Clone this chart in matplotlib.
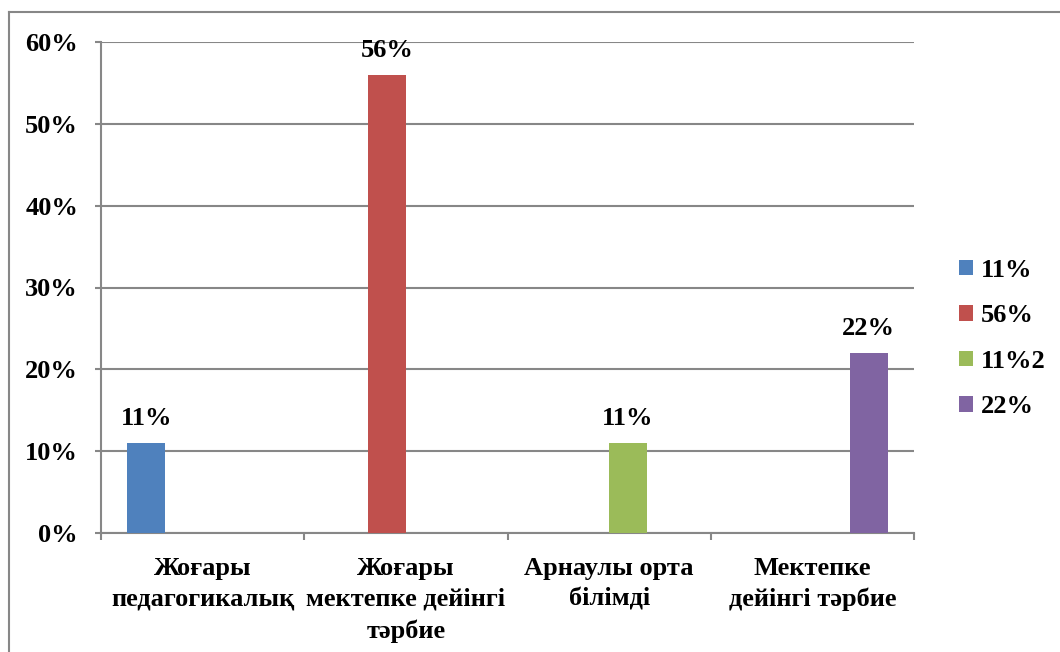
import numpy as np
import matplotlib
matplotlib.use("Agg")
import matplotlib.pyplot as plt
from matplotlib.lines import Line2D

categories = ["Жоғары\nпедагогикалық", "Жоғары\nмектепке дейінгі\nтәрбие",
              "Арнаулы орта\nбілімді", "Мектепке\nдейінгі тәрбие"]
series_names = ["11%", "56%", "11%2", "22%"]
s1 = [11, np.nan, np.nan, np.nan]
s2 = [np.nan, 56, np.nan, np.nan]
s3 = [np.nan, np.nan, 11, np.nan]
s4 = [np.nan, np.nan, np.nan, 22]
series_values = [s1, s2, s3, s4]
colors = ["#4F81BD", "#C0504D", "#9BBB59", "#8064A2"]
yticks = [0, 10, 20, 30, 40, 50, 60]

plt.rcParams['font.family'] = ['Liberation Serif', 'DejaVu Serif']
plt.rcParams['font.weight'] = 'bold'

fig = plt.figure(figsize=(10.6, 6.52), dpi=100)
ax = fig.add_axes([101/1060, 1-533/652, (914-101)/1060, (533-42)/652])

grey = "#878787"
fs = 19
x = np.arange(len(categories))
w = 0.185
for k, (name, vals, c) in enumerate(zip(series_names, series_values, colors)):
    v = np.array(vals, dtype=float)
    m = ~np.isnan(v)
    xs = x[m] + (k - 1.5) * w
    bars = ax.bar(xs, v[m], width=w, color=c, label=name, zorder=3)
    for b, val in zip(bars, v[m]):
        ax.annotate(f"{val:.0f}%", (b.get_x() + b.get_width()/2, b.get_height()),
                    xytext=(0, 9), textcoords="offset points", ha="center", va="bottom",
                    fontsize=fs, fontweight="bold")

ax.set_xlim(-0.5, len(categories) - 0.5)
ax.set_ylim(0, 60)
ax.set_yticks(yticks)
ax.set_yticklabels([f"{t}%" for t in yticks], fontsize=fs, fontweight="bold")
ax.yaxis.grid(True, color=grey, linewidth=1.5, zorder=0)
ax.set_axisbelow(True)

ax.set_xticks(x)
ax.set_xticklabels(categories, fontsize=fs, fontweight="bold", linespacing=1.45)
ax.tick_params(axis="x", length=0, pad=17)
ax.set_xticks(np.arange(-0.5, len(categories)), minor=True)
ax.tick_params(axis="x", which="minor", length=5, width=1.5, color=grey, direction="out")
ax.tick_params(axis="y", length=4.5, width=1.5, color=grey, pad=12)

for s in ["top", "right"]:
    ax.spines[s].set_visible(False)
for s in ["left", "bottom"]:
    ax.spines[s].set_color(grey)
    ax.spines[s].set_linewidth(1.5)

leg = ax.legend(loc="center left", bbox_to_anchor=(1.026, 0.5 - (338 - 287)/491),
                frameon=False, handlelength=0.53, handleheight=0.53,
                handletextpad=0.3, labelspacing=0.85, prop={"weight": "bold", "size": fs})

# outer chart border (left and top edges visible)
fig.add_artist(Line2D([9/1060, 9/1060], [0, 1-12/652], transform=fig.transFigure,
                      color=grey, linewidth=1.5))
fig.add_artist(Line2D([9/1060, 1], [1-12/652, 1-12/652], transform=fig.transFigure,
                      color=grey, linewidth=1.5))

fig.savefig("out.png", dpi=100)
